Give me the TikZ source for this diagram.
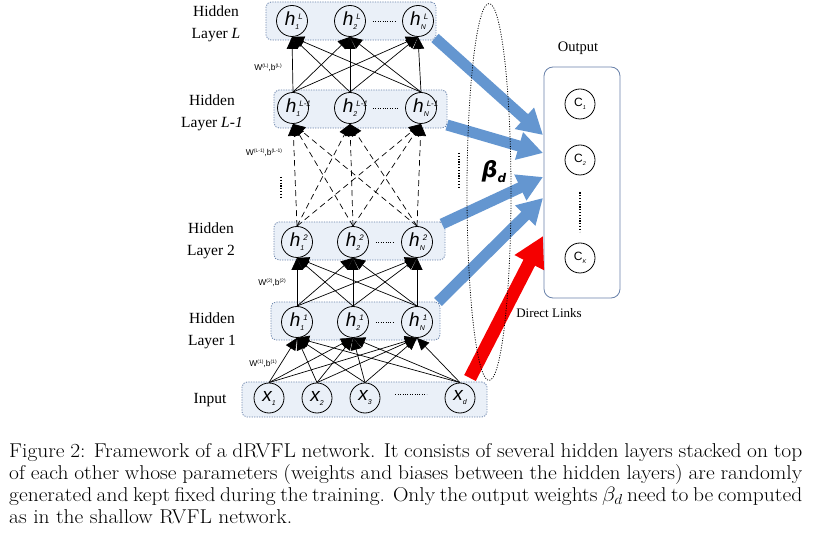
\documentclass[tikz,border=0pt]{standalone}
\usepackage{fontspec}
\usepackage{graphicx}
\usetikzlibrary{arrows.meta,shapes.geometric,calc}
\newfontfamily\tnr{Liberation Serif}
\newfontfamily\ari{Liberation Sans}
\newfontfamily\dvs{DejaVu Sans}
\definecolor{boxfill}{RGB}{234,240,248}
\definecolor{boxline}{RGB}{105,130,170}
\definecolor{bluearrow}{RGB}{100,150,208}
\definecolor{redarrow}{RGB}{245,0,0}
\newcommand{\hlab}[2]{{\ari\itshape\fontsize{19}{19}\selectfont h}\rlap{\raisebox{6.5pt}{\ari\itshape\fontsize{8}{8}\selectfont\hspace{3pt}#2}}\raisebox{-4pt}{\ari\itshape\fontsize{7}{7}\selectfont #1}}
\newcommand{\xlab}[1]{{\ari\itshape\fontsize{19}{19}\selectfont x}\raisebox{-4pt}{\ari\itshape\fontsize{7}{7}\selectfont #1}}
\newcommand{\clab}[1]{{\ari\fontsize{12}{12}\selectfont C}\raisebox{-3pt}{\ari\itshape\fontsize{5.5}{5.5}\selectfont #1}}
\newcommand{\wlab}[1]{{\ari\fontsize{8.5}{8.5}\selectfont W\raisebox{3pt}{\fontsize{5}{5}\selectfont(#1)},b\raisebox{3pt}{\fontsize{5}{5}\selectfont(#1)}}}
\newcommand{\capl}[1]{\scalebox{1.074}[1]{\makebox[738.4pt][s]{#1}}}
\begin{document}
\begin{tikzpicture}[x=1pt,y=-1pt,
  layerbox/.style={draw=boxline, fill=boxfill, rounded corners=5pt, line width=0.8pt, dash pattern=on 1.2pt off 1.3pt, inner sep=0},
  neuron/.style={draw, circle, line width=0.8pt, minimum size=31pt, inner sep=0},
  xneuron/.style={draw, circle, line width=0.8pt, minimum size=30pt, inner sep=0},
  conn/.style={line width=0.7pt, -{Triangle[width=11pt,length=12pt]}},
  dconn/.style={conn, dash pattern=on 6pt off 4pt},
  hdots/.style={line width=1pt, dash pattern=on 1pt off 1.4pt},
  vdots/.style={line width=1.2pt, dash pattern=on 1.2pt off 1.6pt},
  lefttext/.style={font=\tnr\fontsize{15.5}{22}\selectfont, align=center, inner sep=0},
  bigarrow/.style={line width=11pt, bluearrow, -{Triangle[width=27pt,length=25pt]}},
  redarr/.style={line width=13pt, redarrow, -{Triangle[width=31pt,length=30pt]}},
  capline/.style={anchor=base west, inner sep=0, font=\fontsize{20}{22}\selectfont}
]
\fill[white] (0,0) rectangle (822,534);
\useasboundingbox (0,0) rectangle (822,534);

% layer boxes
\node[layerbox, minimum width=170pt, minimum height=38pt] (boxL) at (351,21) {};
\node[layerbox, minimum width=173pt, minimum height=38pt] (boxM) at (360.5,109) {};
\node[layerbox, minimum width=171pt, minimum height=38pt] (boxB) at (359.5,241) {};
\node[layerbox, minimum width=169pt, minimum height=38pt] (boxA) at (355.5,321) {};
\node[layerbox, minimum width=245pt, minimum height=35pt] (boxI) at (364.5,399.5) {};

% neurons
\node[neuron] (hL1) at (292,21) {\hlab{1}{L}};
\node[neuron] (hL2) at (350,21) {\hlab{2}{L}};
\node[neuron] (hLN) at (418,21) {\hlab{N}{L}};
\node[neuron] (hM1) at (293,108) {\hlab{1}{L-1}};
\node[neuron] (hM2) at (350,108) {\hlab{2}{L-1}};
\node[neuron] (hMN) at (421,108) {\hlab{N}{L-1}};
\node[neuron] (hB1) at (297,242) {\hlab{1}{2}};
\node[neuron] (hB2) at (353,242) {\hlab{2}{2}};
\node[neuron] (hBN) at (417,242) {\hlab{N}{2}};
\node[neuron] (hA1) at (297,322) {\hlab{1}{1}};
\node[neuron] (hA2) at (353,322) {\hlab{2}{1}};
\node[neuron] (hAN) at (417,322) {\hlab{N}{1}};
\node[xneuron] (x1) at (269,398) {\xlab{1}};
\node[xneuron] (x2) at (317,398) {\xlab{2}};
\node[xneuron] (x3) at (365,398) {\xlab{3}};
\node[xneuron] (xd) at (460,398) {\xlab{d}};

% dots between neurons
\draw[hdots] ($(hL2.east)+(7,1)$) -- ($(hLN.west)+(-7,1)$);
\draw[hdots] ($(hM2.east)+(7,1)$) -- ($(hMN.west)+(-7,1)$);
\draw[hdots] ($(hB2.east)+(7,1)$) -- ($(hBN.west)+(-7,1)$);
\draw[hdots] ($(hA2.east)+(7,1)$) -- ($(hAN.west)+(-7,1)$);
\draw[hdots] ($(x3.east)+(15,-3)$) -- ($(xd.west)+(-18,-3)$);

% connections
\foreach \a in {1,2,N}{\foreach \b in {1,2,N}{
  \draw[conn] (hM\a.north) -- (hL\b.south);
  \draw[dconn] (hB\a.north) -- (hM\b.south);
  \draw[conn] (hA\a.north) -- (hB\b.south);
}}
\foreach \a in {1,2,3,d}{\foreach \b in {1,2,N}{
  \draw[conn] (x\a.north) -- (hA\b.south);
}}

% left labels
\node[lefttext] (labL) at (216,24) {Hidden\\Layer \textit{L}};
\node[lefttext] (labM) at (212,113) {Hidden\\Layer \textit{L-1}};
\node[lefttext] (labB) at (211,241) {Hidden\\Layer 2};
\node[lefttext] (labA) at (212,331) {Hidden\\Layer 1};
\node[lefttext] (labI) at (210,400) {Input};

% weight labels
\node[inner sep=0] (wL) at (268,68) {\wlab{L}};
\node[inner sep=0] (wM) at (264,153) {\wlab{L-1}};
\node[inner sep=0] (wB) at (272,283) {\wlab{2}};
\node[inner sep=0] (wA) at (263,364) {\wlab{1}};

% vertical dots
\draw[vdots] (281,177) -- (281,199);
\draw[vdots] (459,153) -- (459,189);

% output
\node[draw=boxline, line width=0.8pt, rounded corners=9pt, minimum width=76pt, minimum height=231pt, inner sep=0] (outbox) at (582,182.5) {};
\node[xneuron] (c1) at (580,104) {\clab{1}};
\node[xneuron] (c2) at (580,160) {\clab{2}};
\node[xneuron] (ck) at (580,258) {\clab{K}};
\draw[vdots] (c2.south) ++(0,17) -- ($(ck.north)+(0,-11)$);
\node[inner sep=0, font=\tnr\fontsize{14.5}{16}\selectfont] (outlab) at (578,48) {Output};
\node[inner sep=0, font=\tnr\fontsize{13}{15}\selectfont] (dlab) at (549,313) {Direct Links};

% big arrows
\coordinate (a1s) at (435,38);  \coordinate (a1e) at (543,135);
\coordinate (a2s) at (447,125); \coordinate (a2e) at (543,153);
\coordinate (a3s) at (442,224); \coordinate (a3e) at (543,177);
\coordinate (a4s) at (438,302); \coordinate (a4e) at (543,198);
\coordinate (a5s) at (470,378); \coordinate (a5e) at (543,236);
\draw[bigarrow] (a1s) -- (a1e);
\draw[bigarrow] (a2s) -- (a2e);
\draw[bigarrow] (a3s) -- (a3e);
\draw[bigarrow] (a4s) -- (a4e);
\draw[redarr] (a5s) -- (a5e);

% beta ellipse
\node[ellipse, draw, line width=0.8pt, dash pattern=on 1pt off 1.5pt, minimum width=44pt, minimum height=377pt, inner sep=0] (betaell) at (489,192) {};
\node[inner sep=0] (betalab) at (494,172) {{\dvs\bfseries\itshape\fontsize{22}{22}\selectfont β}\raisebox{-5pt}{\dvs\bfseries\itshape\fontsize{12}{12}\selectfont d}};

% caption
\node[capline] (cap1) at (9,457) {\capl{Figure 2: Framework of a dRVFL network. It consists of several hidden layers stacked on top}};
\node[capline] (cap2) at (9,479) {\capl{of each other whose parameters (weights and biases between the hidden layers) are randomly}};
\node[capline] (cap3) at (9,501) {\capl{generated and kept fixed during the training. Only the output weights $\beta_d$ need to be computed}};
\node[capline] (cap4) at (9,523) {\scalebox{1.074}[1]{as in the shallow RVFL network.}};
\end{tikzpicture}
\end{document}
